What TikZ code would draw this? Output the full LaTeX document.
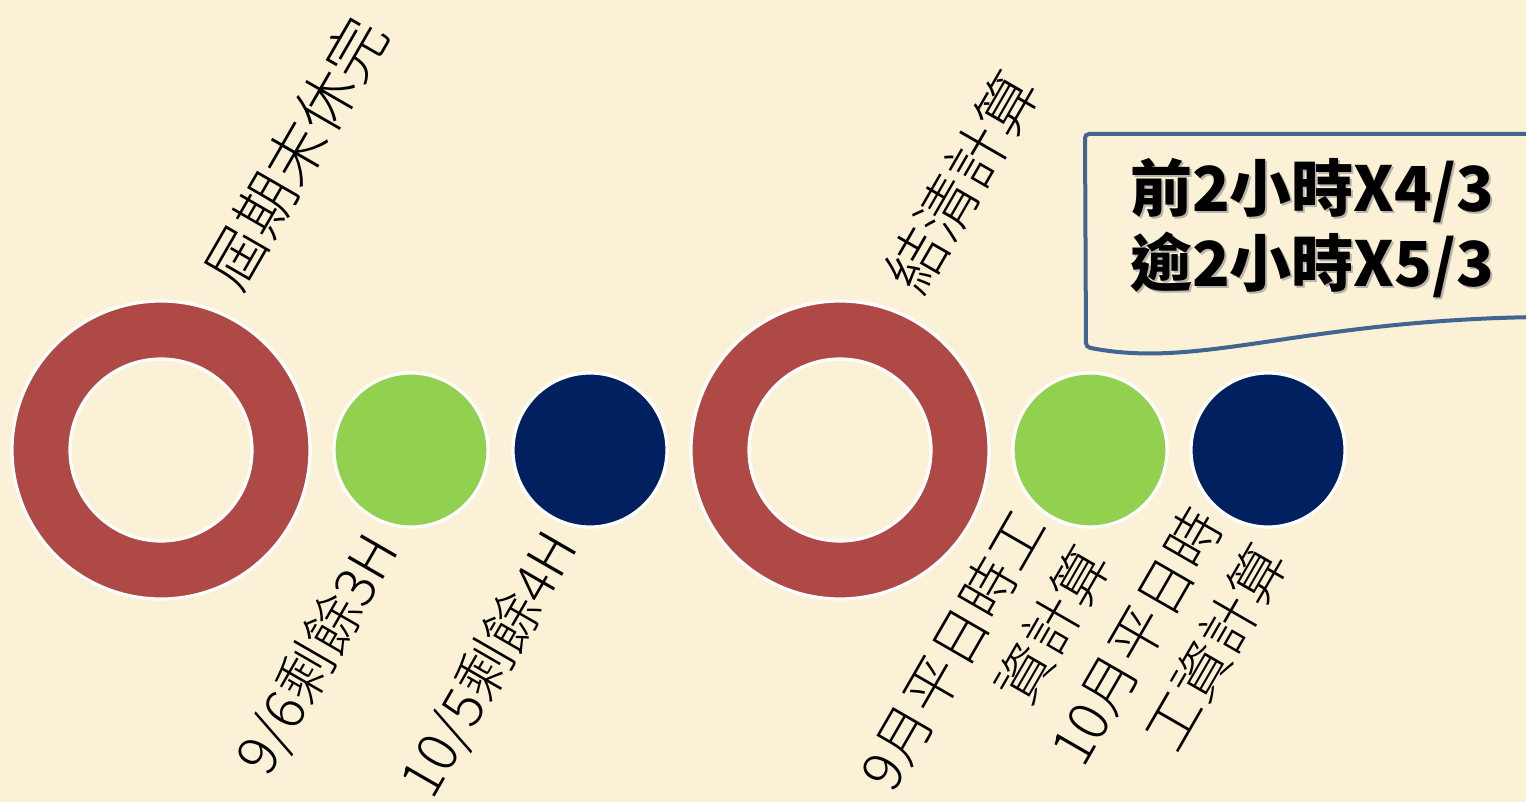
\documentclass[tikz,border=0pt]{standalone}
\usepackage{fontspec}
\newfontfamily\cjk{Noto Sans CJK TC}
\newfontfamily\cjkl{Noto Sans CJK TC Light}
\definecolor{bg}{RGB}{250,241,214}
\definecolor{ringred}{RGB}{174,73,70}
\definecolor{lgreen}{RGB}{146,208,80}
\definecolor{navyc}{RGB}{0,32,96}
\definecolor{calloutblue}{RGB}{65,100,145}
\begin{document}
\begin{tikzpicture}[x=0.5pt,y=-0.5pt,
  ringouter/.style={circle,fill=ringred,draw=white,line width=1.6pt,minimum size=149pt,inner sep=0pt},
  ringinner/.style={circle,fill=bg,draw=white,line width=1.6pt,minimum size=91pt,inner sep=0pt},
  dot/.style={circle,draw=white,line width=1.6pt,minimum size=77pt,inner sep=0pt},
  lbl/.style={rotate=60,font=\cjkl\fontsize{30pt}{37pt}\selectfont,inner sep=0pt,align=right},
  lbls/.style={lbl,font=\cjkl\fontsize{28pt}{37pt}\selectfont},
  callouttext/.style={font=\cjk\bfseries\fontsize{31pt}{37.5pt}\selectfont,inner sep=0pt,align=left}
]
\useasboundingbox (0,0) rectangle (1526,802);
\fill[bg] (0,0) rectangle (1526,802);
\begin{scope}
\clip (0,0) rectangle (1526,802);
% callout
\draw[calloutblue,line width=2pt,rounded corners=2pt]
  (1540,134) -- (1085,134) -- (1086,347)
  .. controls (1200,370) and (1300,320) .. (1540,317);
\end{scope}
% circles
\node[ringouter] (r1) at (161,450) {};
\node[ringinner] (r1i) at (161,450) {};
\node[dot,fill=lgreen] (g1) at (411,450) {};
\node[dot,fill=navyc] (n1) at (590,450) {};
\node[ringouter] (r2) at (840,450) {};
\node[ringinner] (r2i) at (840,450) {};
\node[dot,fill=lgreen] (g2) at (1090,450) {};
\node[dot,fill=navyc] (n2) at (1268,450) {};
% labels
\node[lbl] (t1) at (296,153) {屆期末休完};
\node[lbl] (t2) at (962,182) {結清計算};
\node[lbls] (b1) at (318,655) {9/6剩餘3H};
\node[lbls] (b2) at (490,665) {10/5剩餘4H};
\node[lbls] (b3) at (985,668) {9月平日時工\\資計算};
\node[lbls] (b4) at (1168,655) {10月平日時\\工資計算};
% callout text
\node[callouttext,text=black!45,opacity=0.6] (cs) at (1314,230) {前2小時X4/3\\逾2小時X5/3};
\node[callouttext] (ct) at (1312,228) {前2小時X4/3\\逾2小時X5/3};
\end{tikzpicture}
\end{document}
